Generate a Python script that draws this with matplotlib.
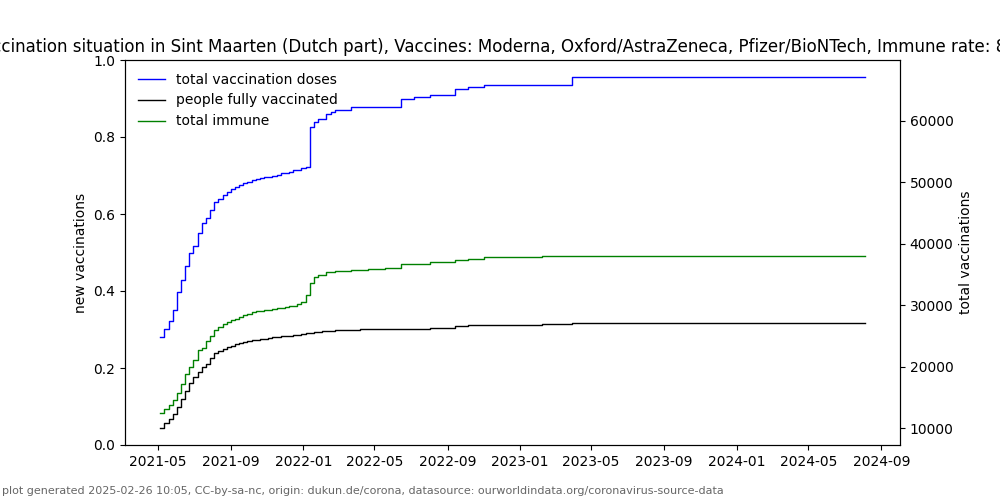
import matplotlib
matplotlib.use("Agg")
import matplotlib.pyplot as plt
import pandas as pd

title = ("Vaccination situation in Sint Maarten (Dutch part), Vaccines: Moderna, "
         "Oxford/AstraZeneca, Pfizer/BioNTech, Immune rate: 86.0 %")
footer = ("plot generated 2025-02-26 10:05, CC-by-sa-nc, origin: dukun.de/corona, "
          "datasource: ourworldindata.org/coronavirus-source-data")

weekly_2021 = ["2021-05-05", "2021-05-12", "2021-05-19", "2021-05-26", "2021-06-02",
               "2021-06-09", "2021-06-16", "2021-06-23", "2021-06-30", "2021-07-07",
               "2021-07-14", "2021-07-21", "2021-07-28", "2021-08-04", "2021-08-11",
               "2021-08-18", "2021-08-25", "2021-09-01", "2021-09-08", "2021-09-15",
               "2021-09-22", "2021-09-29", "2021-10-06", "2021-10-13", "2021-10-20",
               "2021-10-27", "2021-11-03", "2021-11-10", "2021-11-17", "2021-11-24",
               "2021-12-01", "2021-12-08", "2021-12-15", "2021-12-22", "2021-12-29",
               "2022-01-05"]

doses_dates = weekly_2021 + ["2022-01-12", "2022-01-19", "2022-01-26", "2022-02-09",
                             "2022-02-16", "2022-02-23", "2022-03-23", "2022-06-15",
                             "2022-07-06", "2022-08-03", "2022-09-14", "2022-10-05",
                             "2022-11-02", "2023-03-29", "2024-08-04"]
doses_values = [24855, 26221, 27458, 29199, 32176, 34193, 36406, 38424, 39611, 41775,
                43402, 44216, 45582, 46770, 47307, 47958, 48511, 48885, 49260, 49585,
                49813, 50073, 50350, 50512, 50650, 50790, 50920, 51050, 51250, 51440,
                51600, 51765, 51930, 52090, 52350, 52510,
                59022, 59740, 60274, 61088, 61462, 61739, 62276, 63642,
                63902, 64293, 65269, 65530, 65806, 67059, 67059]

fully_dates = weekly_2021 + ["2022-01-12", "2022-01-19", "2022-01-26", "2022-02-02",
                             "2022-02-09", "2022-02-23", "2022-04-06", "2022-06-15",
                             "2022-08-03", "2022-09-14", "2022-10-05", "2022-11-02",
                             "2023-02-08", "2023-03-29", "2024-08-04"]
fully_values = [10114, 10862, 11578, 12278, 13466, 14670, 16020, 17371, 18347, 19160,
                19973, 20526, 21503, 22251, 22577, 22902, 23227, 23455, 23667, 23830,
                23993, 24160, 24318, 24400, 24480, 24594, 24700, 24780, 24860, 24920,
                25000, 25080, 25160, 25245, 25330, 25420,
                25505, 25600, 25690, 25782, 25880, 26058, 26120, 26190,
                26250, 26547, 26710, 26872, 26970, 27035, 27035]

immune_dates = weekly_2021 + ["2022-01-12", "2022-01-19", "2022-01-26", "2022-02-09",
                              "2022-02-23", "2022-03-23", "2022-04-20", "2022-05-18",
                              "2022-06-15", "2022-07-06", "2022-08-03", "2022-09-14",
                              "2022-10-05", "2022-11-02", "2023-02-08", "2023-03-29",
                              "2024-08-04"]
immune_values = [12392, 13140, 13742, 14556, 15743, 17159, 18786, 19973, 21064, 22691,
                 23130, 24204, 24968, 25945, 26482, 26921, 27295, 27572, 27784, 28109,
                 28386, 28661, 28873, 28990, 29100, 29199, 29300, 29410, 29524, 29630,
                 29740, 29850, 29960, 30175, 30550, 31640,
                 33700, 34617, 35007, 35333, 35545, 35700, 35900, 36100,
                 36635, 36750, 36960, 37334, 37610, 37870, 37990, 38050, 38050]

fig, ax = plt.subplots(figsize=(10, 5), dpi=100)
ax.set_ylabel("new vaccinations")
ax2 = ax.twinx()
ax2.plot(pd.to_datetime(doses_dates), doses_values, color="b", lw=1,
         drawstyle="steps-post", label="total vaccination doses")
ax2.plot(pd.to_datetime(fully_dates), fully_values, color="k", lw=1,
         drawstyle="steps-post", label="people fully vaccinated")
ax2.plot(pd.to_datetime(immune_dates), immune_values, color="g", lw=1,
         drawstyle="steps-post", label="total immune")
ax2.set_ylabel("total vaccinations")
ax2.legend(loc="upper left", frameon=False)
ax.set_title(title)
fig.text(0.002, 0.012, footer, fontsize=8, color="#666666")
fig.savefig("out.png")
